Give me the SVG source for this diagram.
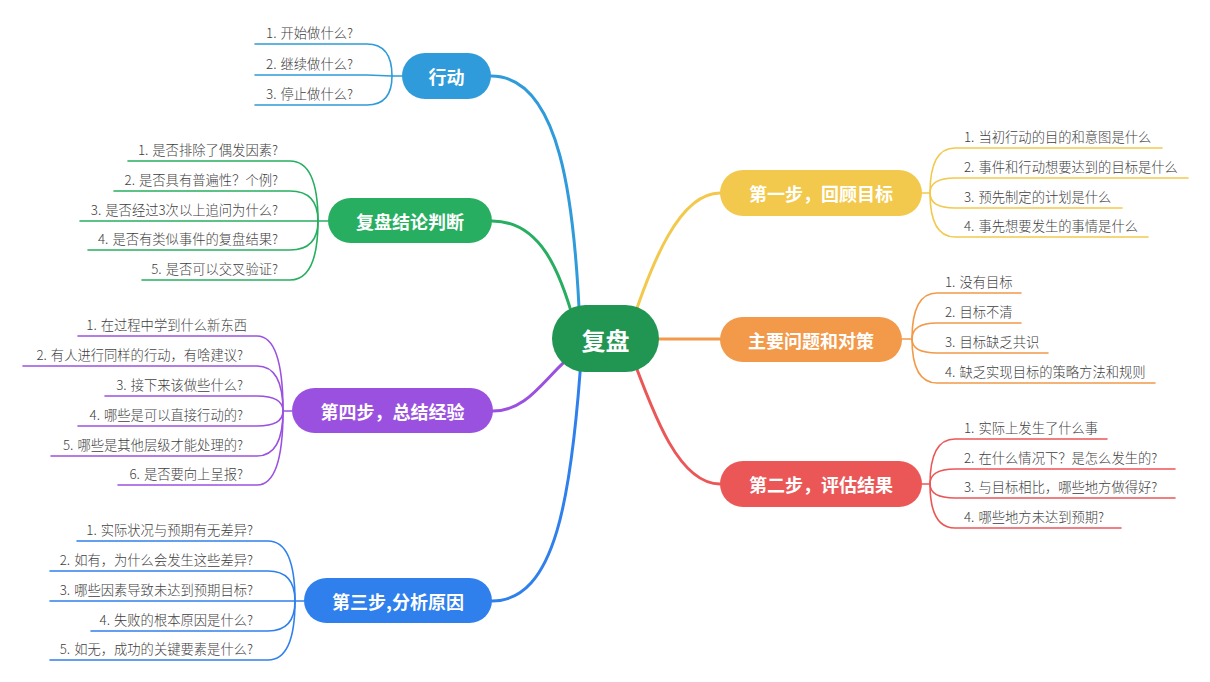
<svg xmlns="http://www.w3.org/2000/svg" width="1210" height="682" viewBox="0 0 1210 682">
<style>
.bg{fill:#ffffff}
.main{fill:none;stroke-width:3;stroke-linecap:round}
.sub{fill:none;stroke-width:1.6;stroke-linecap:round}
.nt{font-family:"Noto Sans CJK SC","Liberation Sans",sans-serif;font-weight:bold;font-size:18px;fill:#ffffff;text-anchor:middle;dominant-baseline:central}
.rt{font-family:"Noto Sans CJK SC","Liberation Sans",sans-serif;font-weight:bold;font-size:24px;fill:#ffffff;text-anchor:middle;dominant-baseline:central}
.lt{font-family:"Noto Sans CJK SC","Liberation Sans",sans-serif;font-weight:300;font-size:13.3px;fill:#404040}
.l{text-anchor:end}
.r{text-anchor:start}
.c-act{stroke:#2f9bdb}
.c-jl{stroke:#27ae60}
.c-s4{stroke:#9b51e0}
.c-s3{stroke:#2f80ed}
.c-s1{stroke:#f2c94c}
.c-pr{stroke:#f2994a}
.c-s2{stroke:#eb5757}
</style>
<rect class="bg" x="0" y="0" width="1210" height="682"/>

<g id="connectors">
  <path class="main c-act" d="M 580 330 C 575 200 560 76 491 76"/>
  <path class="main c-jl" d="M 575 325 C 560 270 540 221 492 221"/>
  <path class="main c-s4" d="M 578 350 C 545 375 530 411 493 411"/>
  <path class="main c-s3" d="M 582 345 C 572 500 555 601 492 601"/>
  <path class="main c-s1" d="M 628 335 C 652 260 680 193 720 193"/>
  <path class="main c-pr" d="M 620 339 L 720 339"/>
  <path class="main c-s2" d="M 628 345 C 655 420 680 484 720 484"/>

  <g class="sub c-act">
    <path d="M 402 76 H 392"/>
    <path d="M 392 76 Q 392 44 367 44 H 255"/>
    <path d="M 392 76 L 367 75 H 255"/>
    <path d="M 392 76 Q 392 105 367 105 H 255"/>
  </g>
  <g class="sub c-jl">
    <path d="M 328 221 H 318"/>
    <path d="M 318 221 Q 318 161 290 161 H 128"/>
    <path d="M 318 221 Q 318 191 290 191 H 114"/>
    <path d="M 318 221 H 80"/>
    <path d="M 318 221 Q 318 250 290 250 H 88"/>
    <path d="M 318 221 Q 318 280 290 280 H 142"/>
  </g>
  <g class="sub c-s4">
    <path d="M 292 411 H 283"/>
    <path d="M 283 411 Q 283 336 257 336 H 78"/>
    <path d="M 283 411 Q 283 366 257 366 H 23"/>
    <path d="M 283 411 Q 283 396 257 396 H 105"/>
    <path d="M 283 411 Q 283 426 257 426 H 78"/>
    <path d="M 283 411 Q 283 456 257 456 H 51"/>
    <path d="M 283 411 Q 283 485 257 485 H 118"/>
  </g>
  <g class="sub c-s3">
    <path d="M 304 601 H 295"/>
    <path d="M 295 601 Q 295 541 268 541 H 77"/>
    <path d="M 295 601 Q 295 571 268 571 H 50"/>
    <path d="M 295 601 H 50"/>
    <path d="M 295 601 Q 295 631 268 631 H 91"/>
    <path d="M 295 601 Q 295 660 268 660 H 50"/>
  </g>
  <g class="sub c-s1">
    <path d="M 922 193 H 930"/>
    <path d="M 930 193 Q 930 148 955 148 H 1162"/>
    <path d="M 930 193 Q 930 178 955 178 H 1188"/>
    <path d="M 930 193 Q 930 208 955 208 H 1122"/>
    <path d="M 930 193 Q 930 237 955 237 H 1148"/>
  </g>
  <g class="sub c-pr">
    <path d="M 902 339 H 912"/>
    <path d="M 912 339 Q 912 293 937 293 H 1021"/>
    <path d="M 912 339 Q 912 323 937 323 H 1021"/>
    <path d="M 912 339 Q 912 353 937 353 H 1048"/>
    <path d="M 912 339 Q 912 383 937 383 H 1155"/>
  </g>
  <g class="sub c-s2">
    <path d="M 922 484 H 930"/>
    <path d="M 930 484 Q 930 439 955 439 H 1107"/>
    <path d="M 930 484 Q 930 469 955 469 H 1175"/>
    <path d="M 930 484 Q 930 498 955 498 H 1175"/>
    <path d="M 930 484 Q 930 528 955 528 H 1121"/>
  </g>
</g>

<g id="root">
  <rect x="552" y="305" width="107" height="67" rx="33.5" fill="#219653"/>
  <text class="rt" x="605.5" y="339">复盘</text>
</g>

<g id="node-action">
  <rect x="402" y="53" width="89" height="46" rx="23" fill="#2f9bdb"/>
  <text class="nt" x="446.5" y="76">行动</text>
  <text class="lt l" x="353" y="38">1.<tspan dx="4">开始做什么?</tspan></text>
  <text class="lt l" x="353" y="69">2.<tspan dx="4">继续做什么?</tspan></text>
  <text class="lt l" x="353" y="99">3.<tspan dx="4">停止做什么?</tspan></text>
</g>

<g id="node-judge">
  <rect x="328" y="198" width="164" height="45" rx="22.5" fill="#27ae60"/>
  <text class="nt" x="410" y="220.5">复盘结论判断</text>
  <text class="lt l" x="278" y="155">1.<tspan dx="4">是否排除了偶发因素?</tspan></text>
  <text class="lt l" x="278" y="185">2.<tspan dx="4">是否具有普遍性？个例?</tspan></text>
  <text class="lt l" x="278" y="215">3.<tspan dx="4">是否经过3次以上追问为什么?</tspan></text>
  <text class="lt l" x="278" y="244">4.<tspan dx="4">是否有类似事件的复盘结果?</tspan></text>
  <text class="lt l" x="278" y="274">5.<tspan dx="4">是否可以交叉验证?</tspan></text>
</g>

<g id="node-step4">
  <rect x="292" y="388" width="201" height="45" rx="22.5" fill="#9b51e0"/>
  <text class="nt" x="392.5" y="410.5">第四步，总结经验</text>
  <text class="lt l" x="247" y="330">1.<tspan dx="4">在过程中学到什么新东西</tspan></text>
  <text class="lt l" x="243" y="360">2.<tspan dx="4">有人进行同样的行动，有啥建议?</tspan></text>
  <text class="lt l" x="243" y="390">3.<tspan dx="4">接下来该做些什么?</tspan></text>
  <text class="lt l" x="243" y="420">4.<tspan dx="4">哪些是可以直接行动的?</tspan></text>
  <text class="lt l" x="243" y="450">5.<tspan dx="4">哪些是其他层级才能处理的?</tspan></text>
  <text class="lt l" x="243" y="479">6.<tspan dx="4">是否要向上呈报?</tspan></text>
</g>

<g id="node-step3">
  <rect x="304" y="578" width="188" height="45" rx="22.5" fill="#2f80ed"/>
  <text class="nt" x="398" y="600.5">第三步,分析原因</text>
  <text class="lt l" x="253" y="535">1.<tspan dx="4">实际状况与预期有无差异?</tspan></text>
  <text class="lt l" x="253" y="565">2.<tspan dx="4">如有，为什么会发生这些差异?</tspan></text>
  <text class="lt l" x="253" y="595">3.<tspan dx="4">哪些因素导致未达到预期目标?</tspan></text>
  <text class="lt l" x="253" y="625">4.<tspan dx="4">失败的根本原因是什么?</tspan></text>
  <text class="lt l" x="253" y="654">5.<tspan dx="4">如无，成功的关键要素是什么?</tspan></text>
</g>

<g id="node-step1">
  <rect x="720" y="170" width="202" height="46" rx="23" fill="#f2c94c"/>
  <text class="nt" x="821" y="193">第一步，回顾目标</text>
  <text class="lt r" x="964" y="142">1.<tspan dx="4">当初行动的目的和意图是什么</tspan></text>
  <text class="lt r" x="964" y="172">2.<tspan dx="4">事件和行动想要达到的目标是什么</tspan></text>
  <text class="lt r" x="964" y="202">3.<tspan dx="4">预先制定的计划是什么</tspan></text>
  <text class="lt r" x="964" y="231">4.<tspan dx="4">事先想要发生的事情是什么</tspan></text>
</g>

<g id="node-problems">
  <rect x="720" y="317" width="182" height="45" rx="22.5" fill="#f2994a"/>
  <text class="nt" x="811" y="339.5">主要问题和对策</text>
  <text class="lt r" x="945" y="287">1.<tspan dx="4">没有目标</tspan></text>
  <text class="lt r" x="945" y="317">2.<tspan dx="4">目标不清</tspan></text>
  <text class="lt r" x="945" y="347">3.<tspan dx="4">目标缺乏共识</tspan></text>
  <text class="lt r" x="945" y="377">4.<tspan dx="4">缺乏实现目标的策略方法和规则</tspan></text>
</g>

<g id="node-step2">
  <rect x="720" y="461" width="202" height="46" rx="23" fill="#eb5757"/>
  <text class="nt" x="821" y="484">第二步，评估结果</text>
  <text class="lt r" x="964" y="433">1.<tspan dx="4">实际上发生了什么事</tspan></text>
  <text class="lt r" x="964" y="463">2.<tspan dx="4">在什么情况下？是怎么发生的?</tspan></text>
  <text class="lt r" x="964" y="492">3.<tspan dx="4">与目标相比，哪些地方做得好?</tspan></text>
  <text class="lt r" x="964" y="522">4.<tspan dx="4">哪些地方未达到预期?</tspan></text>
</g>
</svg>
